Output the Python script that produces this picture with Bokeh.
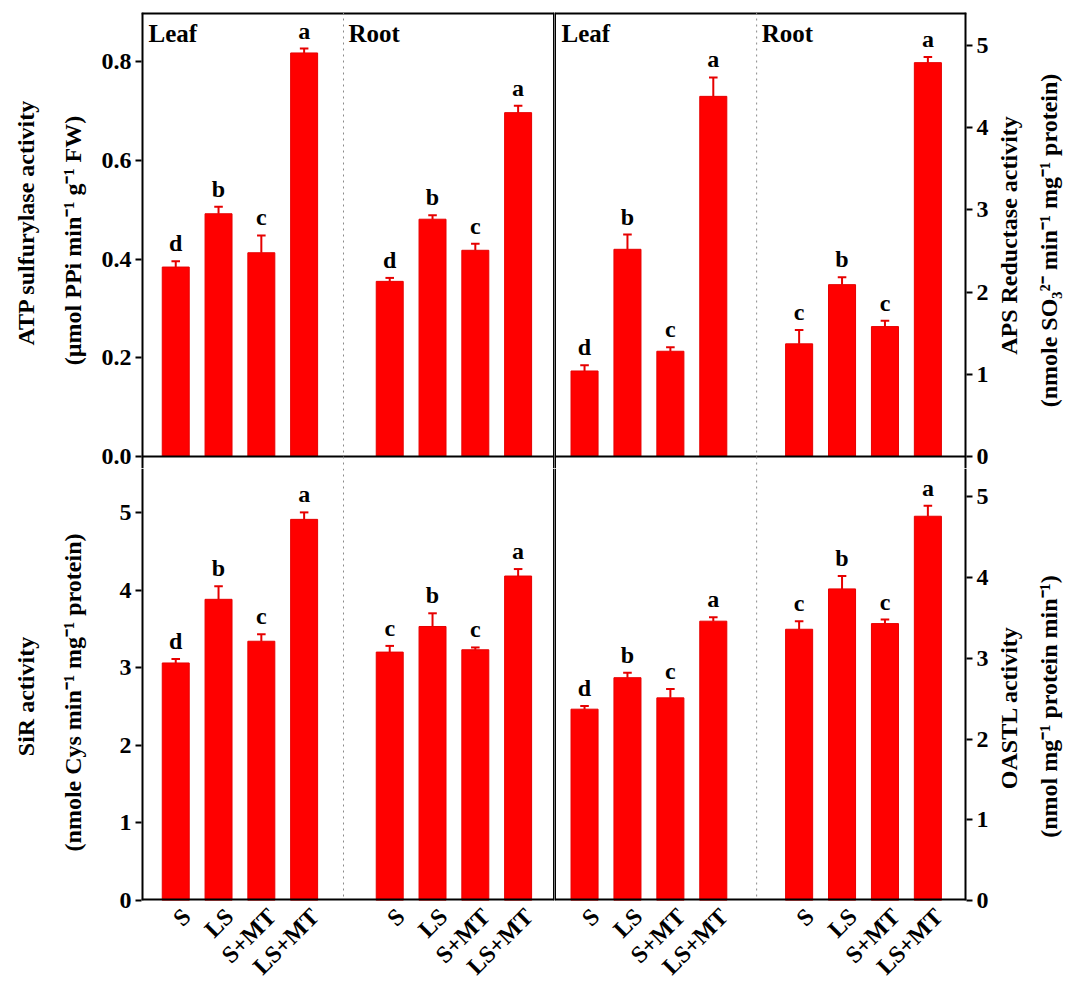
import math
from bokeh.plotting import figure
from bokeh.layouts import gridplot
from bokeh.models import (Range1d, FixedTicker, Span, Label,
                          ColumnDataSource, NumeralTickFormatter)
from bokeh.core.properties import value
from bokeh.embed import file_html
from bokeh.resources import INLINE

# ---------------- data ----------------
treatments = ["S", "LS", "S+MT", "LS+MT"]
tissues = ["Leaf", "Root"]

atp_leaf = [0.384, 0.492, 0.413, 0.818]
atp_leaf_err = [0.012, 0.014, 0.035, 0.009]
atp_leaf_let = ["d", "b", "c", "a"]
atp_root = [0.355, 0.481, 0.418, 0.697]
atp_root_err = [0.007, 0.008, 0.013, 0.014]
atp_root_let = ["d", "b", "c", "a"]

aps_leaf = [1.04, 2.52, 1.28, 4.38]
aps_leaf_err = [0.07, 0.18, 0.05, 0.23]
aps_leaf_let = ["d", "b", "c", "a"]
aps_root = [1.37, 2.09, 1.58, 4.79]
aps_root_err = [0.17, 0.09, 0.07, 0.07]
aps_root_let = ["c", "b", "c", "a"]

sir_leaf = [3.06, 3.88, 3.34, 4.91]
sir_leaf_err = [0.05, 0.17, 0.09, 0.09]
sir_leaf_let = ["d", "b", "c", "a"]
sir_root = [3.20, 3.53, 3.23, 4.18]
sir_root_err = [0.08, 0.17, 0.03, 0.09]
sir_root_let = ["c", "b", "c", "a"]

oastl_leaf = [2.37, 2.76, 2.51, 3.46]
oastl_leaf_err = [0.04, 0.06, 0.11, 0.05]
oastl_leaf_let = ["d", "b", "c", "a"]
oastl_root = [3.36, 3.86, 3.43, 4.76]
oastl_root_err = [0.10, 0.16, 0.05, 0.13]
oastl_root_let = ["c", "b", "c", "a"]

atp_ticks = [0.0, 0.2, 0.4, 0.6, 0.8]
int_ticks = [0, 1, 2, 3, 4, 5]

atp_title = ["ATP sulfurylase activity", "(µmol PPi min⁻¹ g⁻¹ FW)"]
aps_title = ["APS Reductase activity", "(nmole SO₃²⁻ min⁻¹ mg⁻¹ protein)"]
sir_title = ["SiR activity", "(nmole Cys min⁻¹ mg⁻¹ protein)"]
oastl_title = ["OASTL activity", "(nmol mg⁻¹ protein min⁻¹)"]

# ---------------- style ----------------
FONT = "Liberation Serif"
RED = "#ff0000"
ERR = "#e60000"
FS = "24px"
FRAME_H = 444
PAD = 12
TOP_H = 12 + FRAME_H + PAD          # height of the top row
BOT_H = FRAME_H - PAD + 80          # height of the bottom row
LEAF_POS = [1, 2, 3, 4]
ROOT_POS = [6, 7, 8, 9]


def title_strip(border_left, text, standoff, top, bottom, row_h):
    """Empty narrow strip whose left-side axis label carries one title line."""
    p = figure(frame_width=2, frame_height=row_h - top - bottom,
               min_border_left=border_left, min_border_right=0,
               min_border_top=top, min_border_bottom=bottom,
               x_range=Range1d(0, 1), y_range=Range1d(0, 1),
               x_axis_location=None, y_axis_location="left",
               output_backend="svg", toolbar_location=None)
    p.outline_line_color = None
    p.grid.visible = False
    p.background_fill_color = "white"
    p.border_fill_color = "white"
    ax = p.yaxis[0]
    ax.ticker = FixedTicker(ticks=[])
    ax.axis_line_color = None
    ax.major_tick_out = 0
    ax.major_tick_in = 0
    ax.minor_tick_out = 0
    ax.minor_tick_in = 0
    ax.major_label_standoff = 0
    ax.axis_label = text
    ax.axis_label_standoff = standoff
    ax.axis_label_text_font = FONT
    ax.axis_label_text_font_style = "bold"
    ax.axis_label_text_font_size = FS
    ax.axis_label_text_color = "black"
    return p


def panel(col, row, ymax, ticks, fmt,
          leaf, leaf_err, leaf_let, root, root_err, root_let):
    if col == 0:
        xr = Range1d(0.2, 9.85)
        div = 4.92
        fw, mbl, mbr = 413, 50, 0
    else:
        xr = Range1d(0.3, 9.9)
        div = 5.01
        fw, mbl, mbr = 412, 0, 26
    if row == 0:
        yr = Range1d(-ymax * PAD / FRAME_H, ymax)
        fh, mbt, mbb = FRAME_H + PAD, 12, 0
    else:
        yr = Range1d(0, ymax * (FRAME_H - PAD) / FRAME_H)
        fh, mbt, mbb = FRAME_H - PAD, 0, 80

    p = figure(frame_width=fw, frame_height=fh, x_range=xr, y_range=yr,
               output_backend="svg", toolbar_location=None,
               y_axis_location="left" if col == 0 else "right",
               x_axis_location="below" if row == 1 else None,
               min_border_left=mbl, min_border_right=mbr,
               min_border_top=mbt, min_border_bottom=mbb)
    p.outline_line_color = None
    p.grid.visible = False
    p.background_fill_color = "white"
    p.border_fill_color = "white"

    xs = LEAF_POS + ROOT_POS
    vals = leaf + root
    errs = leaf_err + root_err
    lets = leaf_let + root_let
    hi = [v + e for v, e in zip(vals, errs)]
    src = ColumnDataSource(dict(x=xs, top=vals, hi=hi, let=lets,
                                xl=[x - 0.1 for x in xs], xr=[x + 0.1 for x in xs]))

    p.vbar(x="x", top="top", bottom=0, width=0.63, source=src,
           fill_color=RED, line_color=ERR, line_width=1)
    p.segment(x0="x", y0="top", x1="x", y1="hi", source=src,
              line_color=ERR, line_width=2)
    p.segment(x0="xl", y0="hi", x1="xr", y1="hi", source=src,
              line_color=ERR, line_width=2)
    p.text(x="x", y="hi", text="let", source=src, text_align="center",
           text_baseline="bottom", y_offset=-5, text_font=value(FONT),
           text_font_style="bold", text_font_size=FS, text_color="black")

    # frame lines (edges drawn wider because half falls outside the frame)
    p.add_layout(Span(location=xr.start, dimension="height", line_color="black",
                      line_width=4 if col == 0 else 3))
    p.add_layout(Span(location=xr.end, dimension="height", line_color="black",
                      line_width=3 if col == 0 else 4))
    if row == 0:
        p.add_layout(Span(location=ymax, dimension="width", line_color="black", line_width=4))
        p.add_layout(Span(location=0, dimension="width", line_color="black", line_width=2))
    else:
        p.add_layout(Span(location=0, dimension="width", line_color="black", line_width=4))
    p.add_layout(Span(location=div, dimension="height", line_color="#8a8a8a",
                      line_dash="dotted", line_width=1))

    if row == 0:
        for xloc, xoff, txt in ((xr.start, 7, tissues[0]), (div, 5, tissues[1])):
            p.add_layout(Label(x=xloc, y=ymax * (1 - 7 / FRAME_H), x_offset=xoff, text=txt,
                               text_baseline="top", text_font=FONT, text_font_style="bold",
                               text_font_size="25px", text_color="black"))

    # y axis
    ya = p.yaxis[0]
    ya.ticker = FixedTicker(ticks=ticks)
    ya.formatter = NumeralTickFormatter(format=fmt)
    ya.axis_line_color = None
    ya.major_tick_out = 6
    ya.major_tick_in = 0
    ya.major_tick_line_width = 2
    ya.minor_tick_out = 0
    ya.minor_tick_in = 0
    ya.major_label_standoff = 4
    ya.major_label_text_font = FONT
    ya.major_label_text_font_style = "bold"
    ya.major_label_text_font_size = FS
    ya.major_label_text_color = "black"

    if row == 1:
        xa = p.xaxis[0]
        tick_pos = [x + 0.25 for x in xs]
        xa.ticker = FixedTicker(ticks=tick_pos)
        xa.major_label_overrides = {t: treatments[i % 4] for i, t in enumerate(tick_pos)}
        xa.major_label_orientation = math.pi / 4
        xa.axis_line_color = None
        xa.major_tick_out = 0
        xa.major_tick_in = 0
        xa.minor_tick_out = 0
        xa.minor_tick_in = 0
        xa.major_label_standoff = 12
        xa.major_label_text_font = FONT
        xa.major_label_text_font_style = "bold"
        xa.major_label_text_font_size = FS
        xa.major_label_text_color = "black"
    return p


p1 = panel(0, 0, 0.9, atp_ticks, "0.0",
           atp_leaf, atp_leaf_err, atp_leaf_let, atp_root, atp_root_err, atp_root_let)
p2 = panel(1, 0, 5.4, int_ticks, "0",
           aps_leaf, aps_leaf_err, aps_leaf_let, aps_root, aps_root_err, aps_root_let)
p3 = panel(0, 1, 5.72, int_ticks, "0",
           sir_leaf, sir_leaf_err, sir_leaf_let, sir_root, sir_root_err, sir_root_let)
p4 = panel(1, 1, 5.5, int_ticks, "0",
           oastl_leaf, oastl_leaf_err, oastl_leaf_let, oastl_root, oastl_root_err, oastl_root_let)

# title strips: each carries one title line, vertically centred like the reference
a1 = title_strip(46, atp_title[0], 8, 0, 48, TOP_H)      # x 0-48
b1 = title_strip(41, atp_title[1], 4, 0, 12, TOP_H)      # x 48-91
a3 = title_strip(46, sir_title[0], 8, 0, 56, BOT_H)
b3 = title_strip(41, sir_title[1], 4, 0, 64, BOT_H)
c2 = title_strip(34, aps_title[0], 6, 0, 22, TOP_H)      # x 992-1028
d2 = title_strip(36, aps_title[1], 4, 0, 12, TOP_H)      # x 1028-1066
c4 = title_strip(34, oastl_title[0], 6, 0, 34, BOT_H)
d4 = title_strip(36, oastl_title[1], 4, 0, 36, BOT_H)

grid = gridplot([[a1, b1, p1, p2, c2, d2], [a3, b3, p3, p4, c4, d4]],
                toolbar_location=None)

with open("out.html", "w") as f:
    f.write(file_html(grid, INLINE))
